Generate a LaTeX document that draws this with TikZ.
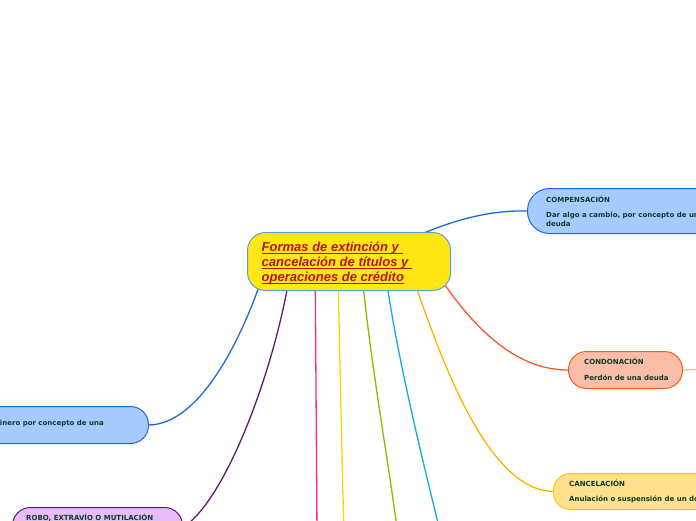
\documentclass[tikz,border=0pt]{standalone}
\usepackage{fontspec}
\setmainfont{DejaVu Sans}
\newfontfamily\titlefont{Liberation Sans}
\newcommand\myul[1]{\setbox0\hbox{#1}\rlap{\rule[-2.4pt]{\wd0}{1pt}}\box0}
\usetikzlibrary{calc}
\pgfdeclarelayer{background}
\pgfsetlayers{background,main}
\definecolor{cyel}{HTML}{FFE614}
\definecolor{cyelb}{HTML}{5A9FD4}
\definecolor{ctitle}{HTML}{B5161E}
\definecolor{cblue}{HTML}{A8CBFF}
\definecolor{cblueb}{HTML}{1A6AD6}
\definecolor{csal}{HTML}{F9BDA8}
\definecolor{csalb}{HTML}{F05A24}
\definecolor{cora}{HTML}{FFE08C}
\definecolor{corab}{HTML}{F7C21A}
\definecolor{coral}{HTML}{FFB000}
\definecolor{cpur}{HTML}{E8BDF7}
\definecolor{cpurb}{HTML}{5E1A75}
\definecolor{cpink}{HTML}{FF2A7F}
\definecolor{cyline}{HTML}{F2D800}
\definecolor{cgreen}{HTML}{8DB800}
\definecolor{ccyan}{HTML}{12A8EE}
\definecolor{ctext}{HTML}{0E3B2A}
\begin{document}
\begin{tikzpicture}[x=1pt,y=-1pt,
  box/.style={draw, line width=1pt, anchor=north west, inner sep=0pt},
  lbl/.style={anchor=west, inner sep=0pt, text=ctext, font=\fontsize{7}{9}\selectfont\bfseries, align=left},
  conn/.style={line width=1.3pt}]
\clip (0,0) rectangle (696,520);
% boxes
\node[box, fill=cyel, draw=cyelb, rounded corners=18pt, minimum width=203pt, minimum height=58pt] (c) at (247,232) {};
\node[anchor=north west, inner sep=0pt, align=left, text=ctitle,
  font=\titlefont\bfseries\itshape\fontsize{13}{15}\selectfont] (title) at (261.5,241.5)
  {\myul{Formas de extinción y\ }\\\myul{cancelación de títulos y\ }\\\myul{operaciones de crédito}};
\node[box, fill=cblue, draw=cblueb, rounded corners=22pt, minimum width=230pt, minimum height=45pt] (comp) at (527,188) {};
\node[box, fill=csal, draw=csalb, rounded corners=18pt, minimum width=114pt, minimum height=37pt] (cond) at (568,351) {};
\node[box, fill=cora, draw=corab, rounded corners=17pt, minimum width=220pt, minimum height=36pt] (canc) at (553,473) {};
\node[box, fill=cblue, draw=cblueb, rounded corners=18pt, minimum width=248pt, minimum height=37pt] (left) at (-100,406) {};
\node[box, fill=cpur, draw=cpurb, rounded corners=18pt, minimum width=170pt, minimum height=40pt] (robo) at (12,507) {};
% texts
\node[lbl] (t1) at (546,199) {COMPENSACIÓN};
\node[lbl, anchor=north west] (t1b) at (546,211.5) {Dar algo a cambio, por concepto de una\\deuda};
\node[lbl] (t2) at (584,361) {CONDONACIÓN};
\node[lbl] (t2b) at (584,378) {Perdón de una deuda};
\node[lbl] (t3) at (569,483) {CANCELACIÓN};
\node[lbl] (t3b) at (569,499) {Anulación o suspensión de un documento};
\node[lbl, anchor=east] (t4) at (104,424) {dinero por concepto de una};
\node[lbl] (t5) at (26,518) {ROBO, EXTRAVÍO O MUTILACIÓN};
% free ends
\coordinate (pinkend) at (317,535);
\coordinate (yelend) at (344,535);
\coordinate (greenend) at (398,535);
\coordinate (cyanend) at (441,535);
\coordinate (condend) at (700,369.5);
\begin{pgfonlayer}{background}
\draw[conn, cblueb] ($(c.north west)!0.855!(c.north east)+(0,2)$) .. controls (455,220) and (490,210) .. (comp.west);
\draw[conn, csalb] ($(c.south east)+(-6,-6)$) .. controls (480,335) and (520,370) .. (cond.west);
\draw[line width=1.3pt, csal] (cond.east) -- (condend);
\draw[conn, coral] ($(c.south west)!0.833!(c.south east)+(0,-2)$) .. controls (445,370) and (490,490) .. (canc.west);
\draw[conn, ccyan] ($(c.south west)!0.69!(c.south east)+(0,-2)$) .. controls (400,370) and (425,470) .. (cyanend);
\draw[conn, cgreen] ($(c.south west)!0.571!(c.south east)+(0,-2)$) .. controls (372,370) and (388,460) .. (greenend);
\draw[conn, cyline] ($(c.south west)!0.448!(c.south east)+(0,-2)$) .. controls (340,370) and (342,460) .. (yelend);
\draw[conn, cpink] ($(c.south west)!0.335!(c.south east)+(0,-2)$) -- (pinkend);
\draw[conn, cpurb] ($(c.south west)!0.197!(c.south east)+(0,-2)$) .. controls (270,380) and (225,500) .. (robo.east);
\draw[conn, cblueb] ($(c.south west)!0.06!(c.south east)+(0,-5)$) .. controls (240,340) and (200,424) .. (left.east);
\end{pgfonlayer}
\end{tikzpicture}
\end{document}
